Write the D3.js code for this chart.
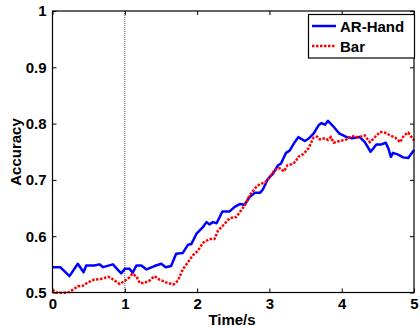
<!DOCTYPE html>
<html>
<head>
<meta charset="utf-8">
<script src="https://cdn.jsdelivr.net/npm/d3@7"></script>
<style>
html, body { margin: 0; padding: 0; background: #fff; }
svg { display: block; }
text { font-family: "Liberation Sans", Arial, sans-serif; font-weight: bold; fill: #000; }
</style>
</head>
<body>
<svg id="chart" width="420" height="326"></svg>
<script>
// ---- data ----
const seriesNames = ["AR-Hand", "Bar"];
const handTime = [0,0.05,0.107,0.235,0.35,0.43,0.466,0.58,0.65,0.70,0.835,0.95,1.0,1.066,1.11,1.16,1.23,1.30,1.41,1.505,1.565,1.64,1.71,1.80,1.875,1.92,1.99,2.08,2.13,2.17,2.22,2.27,2.35,2.45,2.52,2.59,2.655,2.73,2.80,2.87,2.91,2.98,3.05,3.12,3.16,3.23,3.28,3.35,3.40,3.49,3.54,3.61,3.68,3.72,3.77,3.81,3.87,3.97,4.07,4.14,4.25,4.32,4.40,4.48,4.55,4.61,4.645,4.68,4.71,4.78,4.85,4.92,5.0];
const handAcc = [0.545,0.545,0.545,0.529,0.551,0.536,0.548,0.548,0.550,0.545,0.550,0.534,0.542,0.542,0.535,0.548,0.548,0.541,0.547,0.551,0.545,0.547,0.569,0.570,0.585,0.586,0.604,0.616,0.625,0.621,0.625,0.623,0.644,0.644,0.652,0.657,0.656,0.670,0.677,0.677,0.683,0.702,0.711,0.726,0.729,0.748,0.752,0.767,0.776,0.769,0.773,0.782,0.797,0.801,0.798,0.805,0.797,0.782,0.776,0.774,0.776,0.767,0.750,0.763,0.763,0.766,0.756,0.741,0.748,0.745,0.740,0.739,0.753];
const barTime = [0,0.05,0.14,0.235,0.305,0.35,0.42,0.49,0.58,0.67,0.77,0.83,0.93,1.0,1.066,1.10,1.16,1.205,1.27,1.34,1.41,1.48,1.57,1.67,1.735,1.805,1.875,1.94,2.01,2.08,2.17,2.24,2.29,2.38,2.45,2.54,2.66,2.73,2.80,2.87,2.94,3.0,3.07,3.14,3.2,3.25,3.31,3.36,3.40,3.47,3.54,3.61,3.66,3.70,3.77,3.81,3.85,3.89,3.97,4.07,4.14,4.20,4.27,4.32,4.39,4.46,4.53,4.60,4.67,4.74,4.81,4.86,4.92,5.0];
const barAcc = [0.505,0.500,0.499,0.501,0.507,0.511,0.512,0.518,0.523,0.524,0.528,0.524,0.515,0.521,0.527,0.533,0.529,0.517,0.517,0.521,0.529,0.523,0.518,0.514,0.521,0.542,0.554,0.566,0.574,0.588,0.595,0.595,0.610,0.622,0.632,0.634,0.655,0.673,0.685,0.693,0.695,0.704,0.717,0.721,0.715,0.726,0.728,0.732,0.741,0.746,0.756,0.775,0.777,0.772,0.774,0.771,0.776,0.766,0.769,0.772,0.778,0.776,0.777,0.779,0.767,0.776,0.785,0.784,0.779,0.775,0.767,0.779,0.784,0.770];
const xTicks = [0, 1, 2, 3, 4, 5];
const xTickLabels = ["0", "1", "2", "3", "4", "5"];
const yTicks = [0.5, 0.6, 0.7, 0.8, 0.9, 1];
const yTickLabels = ["0.5", "0.6", "0.7", "0.8", "0.9", "1"];
const markerTime = [1];
const xTitle = "Time/s";
const yTitle = "Accuracy";

// ---- layout ----
const L = 52.5, R = 414, T = 11, B = 292.5;
const svg = d3.select("#chart");
const x = d3.scaleLinear().domain([0, 5]).range([L, R]);
const y = d3.scaleLinear().domain([0.5, 1]).range([B, T]);

svg.append("rect").attr("width", 420).attr("height", 326).attr("fill", "#fff");
svg.append("rect").attr("x", L).attr("y", T).attr("width", R - L).attr("height", B - T).attr("fill", "#fff");

// vertical dotted marker
svg.selectAll("line.marker").data(markerTime).enter().append("line")
  .attr("class", "marker")
  .attr("x1", d => x(d)).attr("x2", d => x(d))
  .attr("y1", T).attr("y2", B)
  .attr("stroke", "#666").attr("stroke-width", 1.2).attr("stroke-dasharray", "1,1");

// axes
const fmtX = d => xTickLabels[xTicks.indexOf(d)];
const fmtY = d => yTickLabels[yTicks.indexOf(d)];
const gx = svg.append("g").attr("transform", `translate(0,${B})`)
  .call(d3.axisBottom(x).tickValues(xTicks).tickFormat(fmtX).tickSizeInner(-4).tickSizeOuter(0).tickPadding(5.5));
const gy = svg.append("g").attr("transform", `translate(${L},0)`)
  .call(d3.axisLeft(y).tickValues(yTicks).tickFormat(fmtY).tickSizeInner(-4).tickSizeOuter(0).tickPadding(6));
const gt = svg.append("g").attr("transform", `translate(0,${T})`)
  .call(d3.axisTop(x).tickValues(xTicks).tickFormat("").tickSizeInner(-4).tickSizeOuter(0));
const gr = svg.append("g").attr("transform", `translate(${R},0)`)
  .call(d3.axisRight(y).tickValues(yTicks).tickFormat("").tickSizeInner(-4).tickSizeOuter(0));
[gx, gy, gt, gr].forEach(g => {
  g.select(".domain").remove();
  g.selectAll("line").attr("stroke", "#000").attr("stroke-width", 1);
  g.selectAll("text").attr("font-size", "15px").attr("font-family", "Liberation Sans, Arial, sans-serif").attr("font-weight", "bold").attr("fill", "#000");
});

// series
const line = d3.line().x(d => x(d[0])).y(d => y(d[1]));
const handData = handTime.map((t, i) => [t, handAcc[i]]);
const barData = barTime.map((t, i) => [t, barAcc[i]]);
svg.append("path").datum(handData).attr("d", line)
  .attr("fill", "none").attr("stroke", "#0000ff").attr("stroke-width", 2.5).attr("stroke-linejoin", "round");
svg.append("path").datum(barData).attr("d", line)
  .attr("fill", "none").attr("stroke", "#ff0000").attr("stroke-width", 2.5).attr("stroke-dasharray", "2.5,1.5");

// box frame
svg.append("rect").attr("x", L).attr("y", T).attr("width", R - L).attr("height", B - T)
  .attr("fill", "none").attr("stroke", "#000").attr("stroke-width", 1.2);

// axis titles
svg.append("text").attr("x", 232).attr("y", 324.5).attr("text-anchor", "middle").attr("font-size", "15px").text(xTitle);
svg.append("text").attr("transform", "translate(21,152) rotate(-90)").attr("text-anchor", "middle").attr("font-size", "15px").text(yTitle);

// legend
const lg = svg.append("g");
lg.append("rect").attr("x", 308.5).attr("y", 14.5).attr("width", 106).attr("height", 43.5)
  .attr("fill", "#fff").attr("stroke", "#000").attr("stroke-width", 1.2);
const legendStyles = [
  { color: "#0000ff", dash: null },
  { color: "#ff0000", dash: "2.5,1.5" }
];
seriesNames.forEach((name, i) => {
  const cy = 26 + i * 20;
  const ln = lg.append("line").attr("x1", 312).attr("x2", 336).attr("y1", cy).attr("y2", cy)
    .attr("stroke", legendStyles[i].color).attr("stroke-width", 2.5);
  if (legendStyles[i].dash) ln.attr("stroke-dasharray", legendStyles[i].dash);
  lg.append("text").attr("x", 340).attr("y", cy + 5.5).attr("font-size", "15px").text(name);
});
</script>
</body>
</html>
